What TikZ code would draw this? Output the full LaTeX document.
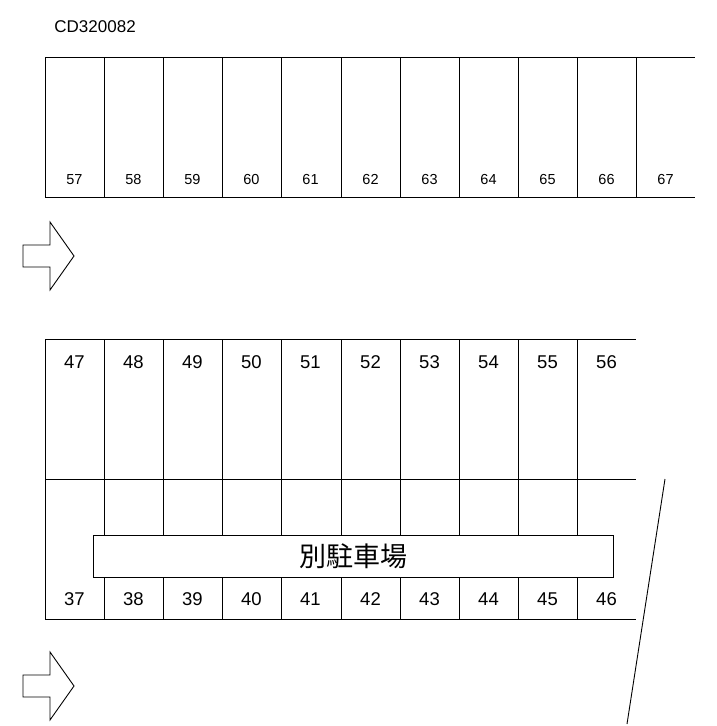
\documentclass[tikz,border=0pt]{standalone}
\usepackage{fontspec}
\setmainfont{Liberation Sans}
\newfontfamily\cjk{Noto Sans CJK JP}
\begin{document}
\begin{tikzpicture}[x=1pt,y=-1pt,line width=0.9pt,
  small/.style={font=\fontsize{14.5}{14.5}\selectfont},
  big/.style={font=\fontsize{18.5}{18.5}\selectfont}]
\useasboundingbox (0,0) rectangle (716,726);
\node[anchor=west,font=\fontsize{17}{17}\selectfont,inner sep=0pt] (title) at (54,27) {CD320082};
% top row
\draw (45,57) -- (695,57);
\draw (45,197) -- (695,197);
\foreach \x [count=\i from 57] in {45,104,163,222,281,341,400,459,518,577,636} {
  \draw (\x,57) -- (\x,197);
  \node[small] (t\i) at (\x+29.5,180) {\i};
}
% arrows
\foreach \c/\n in {256/a1,686/a2} {
  \draw (23,\c-11) -- (50,\c-11) -- (50,\c-34) -- (74,\c) -- (50,\c+34) -- (50,\c+11) -- (23,\c+11) -- cycle;
  \coordinate (\n) at (48,\c);
}
% lower block
\draw (45,339) -- (636,339);
\draw (45,479) -- (636,479);
\draw (45,619) -- (636,619);
\foreach \x [count=\i from 0] in {45,104,163,222,281,341,400,459,518,577} {
  \draw (\x,339) -- (\x,619);
  \pgfmathtruncatemacro{\u}{47+\i}
  \pgfmathtruncatemacro{\l}{37+\i}
  \node[big] (u\u) at (\x+29.5,362) {\u};
  \node[big] (l\l) at (\x+29.5,599) {\l};
}
\node[draw,fill=white,minimum width=520pt,minimum height=42pt,inner sep=0pt,
  font=\cjk\fontsize{27}{27}\selectfont] (box) at (353,556) {別駐車場};
\coordinate (d1) at (665,479);
\coordinate (d2) at (627,724);
\draw (d1) -- (d2);
\end{tikzpicture}
\end{document}
